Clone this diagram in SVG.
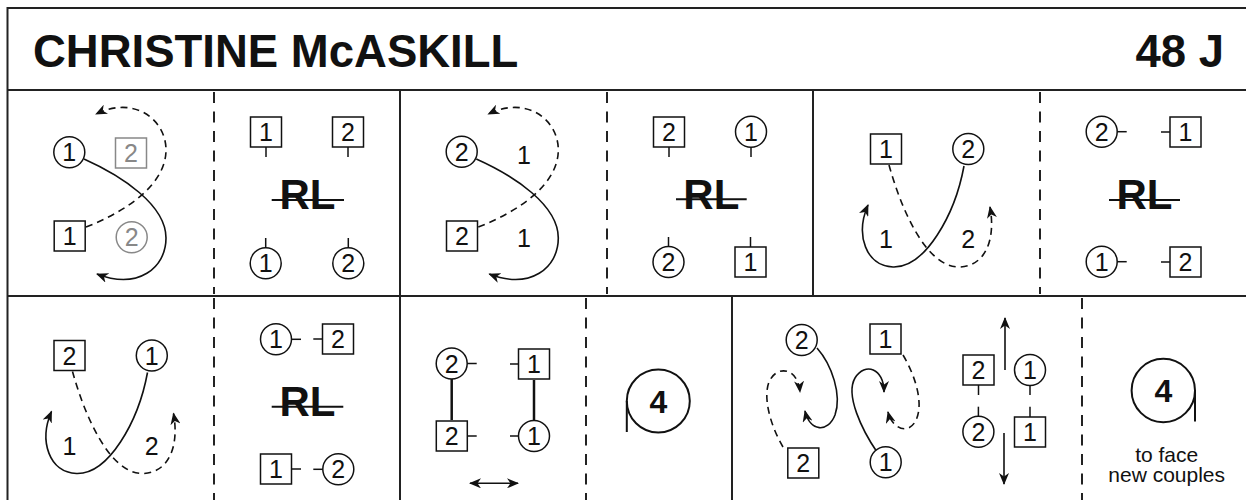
<svg xmlns="http://www.w3.org/2000/svg" width="1246" height="500" viewBox="0 0 1246 500">
<defs>
<style>
.fr{stroke:#222;stroke-width:2;fill:none}
.fd{stroke:#222;stroke-width:2;fill:none;stroke-dasharray:11 8.5}
.n circle,.n rect{fill:#fff;stroke:#111;stroke-width:1.5}
.g circle,.g rect{fill:#fff;stroke:#888;stroke-width:1.5}
.tk{stroke:#111;stroke-width:1.5}
text{font-family:"Liberation Sans",Arial,sans-serif;text-anchor:middle;fill:#111}
.d{font-size:25px}
.g text{fill:#888}
.rl{font-size:42px;font-weight:bold}
.st{stroke:#111;stroke-width:2}
.c{fill:none;stroke:#111;stroke-width:1.6}
.cd{fill:none;stroke:#111;stroke-width:1.6;stroke-dasharray:7 5}
.ca{marker-end:url(#ah)}
.big{font-size:32px;font-weight:bold}
.sm{font-size:21px}
</style>
<marker id="ah" viewBox="0 0 12 10" refX="11" refY="5" markerWidth="12" markerHeight="10" markerUnits="userSpaceOnUse" orient="auto-start-reverse"><path d="M0,0 L12,5 L0,10 L3.5,5 Z" fill="#111" stroke="none"/></marker>
</defs>
<rect width="1246" height="500" fill="#fff"/>

<g id="frame">
<line class="fr" x1="7.5" y1="8" x2="1246" y2="8"/>
<line class="fr" x1="7.5" y1="7" x2="7.5" y2="500"/>
<line class="fr" x1="7.5" y1="90" x2="1246" y2="90"/>
<line class="fr" x1="7.5" y1="296" x2="1246" y2="296"/>
<line class="fr" x1="400" y1="90" x2="400" y2="500"/>
<line class="fr" x1="813" y1="90" x2="813" y2="296"/>
<line class="fr" x1="732" y1="296" x2="732" y2="500"/>
<line class="fd" x1="214" y1="92" x2="214" y2="294"/>
<line class="fd" x1="607" y1="92" x2="607" y2="294"/>
<line class="fd" x1="1040" y1="92" x2="1040" y2="294"/>
<line class="fd" x1="214" y1="298" x2="214" y2="500"/>
<line class="fd" x1="586" y1="298" x2="586" y2="500"/>
<line class="fd" x1="1082" y1="298" x2="1082" y2="500"/>
</g>

<g id="title">
<text x="33" y="67" style="font-size:45.5px;font-weight:bold;text-anchor:start">CHRISTINE McASKILL</text>
<text x="1224" y="67" style="font-size:45.5px;font-weight:bold;text-anchor:end">48 J</text>
</g>

<g id="connectors">
<path class="c ca" d="M84 159 C122 176 166 205 166 238 C166 268 138 290 97 274"/>
<path class="cd ca" d="M86 227 C125 212 166 185 166 150 C166 120 135 95 96 114"/>
<g transform="translate(392.3,0)">
<path class="c ca" d="M84 159 C122 176 166 205 166 238 C166 268 138 290 97 274"/>
<path class="cd ca" d="M86 227 C125 212 166 185 166 150 C166 120 135 95 96 114"/>
</g>
<path class="cd ca" d="M889 165 C900 205 925 268 960 267 C985 266 996 240 990 207"/>
<path class="c ca" d="M964 166 C955 215 925 268 893 267 C866 266 855 235 868 205"/>
<g transform="translate(-816.5,206.5)">
<path class="cd ca" d="M889 165 C900 205 925 268 960 267 C985 266 996 240 990 207"/>
<path class="c ca" d="M964 166 C955 215 925 268 893 267 C866 266 855 235 868 205"/>
</g>
<line x1="451.7" y1="379" x2="451.7" y2="420" stroke="#111" stroke-width="2.5"/>
<line x1="534" y1="380" x2="534" y2="420" stroke="#111" stroke-width="2.5"/>
<line class="c" x1="470" y1="483.3" x2="518" y2="483.3" style="marker-start:url(#ah);marker-end:url(#ah)"/>
<path class="c ca" d="M817 348 C832 365 842 395 835 415 C828 433 810 432 805 411"/>
<path class="cd ca" d="M783 447 C770 425 762 395 770 380 C778 365 798 368 800 392"/>
<path class="c ca" d="M877 452 C862 430 845 395 855 378 C865 362 884 368 884 392"/>
<path class="cd ca" d="M903 355 C915 375 925 405 915 422 C907 435 892 428 888 412"/>
<line class="c ca" x1="1005" y1="370" x2="1005" y2="318"/>
<line class="c ca" x1="1004" y1="433" x2="1004" y2="484"/>
</g>

<!-- Panel 1 -->
<g id="p1-m1" class="n"><circle cx="69.3" cy="152.3" r="15.5"/><text class="d" x="69.3" y="161.3">1</text></g>
<g id="p1-w2" class="g"><rect x="115.5" y="138" width="31" height="30"/><text class="d" x="131" y="162">2</text></g>
<g id="p1-w1" class="n"><rect x="54.2" y="221" width="31" height="30"/><text class="d" x="69.7" y="245">1</text></g>
<g id="p1-m2" class="g"><circle cx="131.7" cy="237.3" r="15.5"/><text class="d" x="131.7" y="246.3">2</text></g>

<!-- Panel 2 -->
<g id="p2-w1" class="n"><rect x="250.5" y="117" width="31" height="30"/><text class="d" x="266" y="141">1</text><line class="tk" x1="266" y1="147" x2="266" y2="157"/></g>
<g id="p2-w2" class="n"><rect x="332.5" y="117" width="31" height="30"/><text class="d" x="348" y="141">2</text><line class="tk" x1="348" y1="147" x2="348" y2="157"/></g>
<g id="p2-rl"><text class="rl" x="307.5" y="209">RL</text><line class="st" x1="271.7" y1="200" x2="344" y2="200"/></g>
<g id="p2-m1" class="n"><circle cx="265.7" cy="263.3" r="15.5"/><text class="d" x="265.7" y="272.3">1</text><line class="tk" x1="265.7" y1="238" x2="265.7" y2="247.8"/></g>
<g id="p2-m2" class="n"><circle cx="348.3" cy="263.3" r="15.5"/><text class="d" x="348.3" y="272.3">2</text><line class="tk" x1="348.3" y1="238" x2="348.3" y2="247.8"/></g>

<!-- Panel 3 -->
<g id="p3-m2" class="n"><circle cx="461.7" cy="151.7" r="15.5"/><text class="d" x="461.7" y="160.7">2</text></g>
<g id="p3-w2" class="n"><rect x="446.5" y="221" width="31" height="30"/><text class="d" x="462" y="245">2</text></g>
<g id="p3-l1"><text class="d" x="524" y="163.5">1</text></g>
<g id="p3-l2"><text class="d" x="524" y="246.7">1</text></g>

<!-- Panel 4 -->
<g id="p4-w2" class="n"><rect x="653.5" y="117" width="31" height="30"/><text class="d" x="669" y="141">2</text><line class="tk" x1="669" y1="147" x2="669" y2="157"/></g>
<g id="p4-m1" class="n"><circle cx="751" cy="131.7" r="15.5"/><text class="d" x="751" y="140.7">1</text><line class="tk" x1="751" y1="147.2" x2="751" y2="157"/></g>
<g id="p4-rl"><text class="rl" x="711.3" y="208.5">RL</text><line class="st" x1="676" y1="199.3" x2="746.7" y2="199.3"/></g>
<g id="p4-m2" class="n"><circle cx="668.5" cy="262" r="15.5"/><text class="d" x="668.5" y="271">2</text><line class="tk" x1="668.5" y1="237" x2="668.5" y2="246.5"/></g>
<g id="p4-w1" class="n"><rect x="735" y="247" width="31" height="30"/><text class="d" x="750.5" y="271">1</text><line class="tk" x1="750.5" y1="237" x2="750.5" y2="247"/></g>

<!-- Panel 5 -->
<g id="p5-w1" class="n"><rect x="870.5" y="134" width="31" height="30"/><text class="d" x="886" y="158">1</text></g>
<g id="p5-m2" class="n"><circle cx="968.3" cy="149" r="15.5"/><text class="d" x="968.3" y="158">2</text></g>
<g id="p5-l1"><text class="d" x="886" y="248">1</text></g>
<g id="p5-l2"><text class="d" x="968.3" y="248">2</text></g>

<!-- Panel 6 -->
<g id="p6-m2" class="n"><circle cx="1101.7" cy="131.7" r="15.5"/><text class="d" x="1101.7" y="140.7">2</text><line class="tk" x1="1117.2" y1="131.7" x2="1126.7" y2="131.7"/></g>
<g id="p6-w1" class="n"><rect x="1170" y="117" width="31" height="30"/><text class="d" x="1185.5" y="141">1</text><line class="tk" x1="1161" y1="132" x2="1170" y2="132"/></g>
<g id="p6-rl"><text class="rl" x="1144.5" y="209">RL</text><line class="st" x1="1109" y1="200" x2="1180" y2="200"/></g>
<g id="p6-m1" class="n"><circle cx="1101.7" cy="261.7" r="15.5"/><text class="d" x="1101.7" y="270.7">1</text><line class="tk" x1="1117.2" y1="261.7" x2="1126.7" y2="261.7"/></g>
<g id="p6-w2" class="n"><rect x="1170" y="247" width="31" height="30"/><text class="d" x="1185.5" y="271">2</text><line class="tk" x1="1161" y1="262" x2="1170" y2="262"/></g>

<!-- Bottom panel 1 -->
<g id="b1-w2" class="n"><rect x="54" y="340.5" width="31" height="30"/><text class="d" x="69.5" y="364.5">2</text></g>
<g id="b1-m1" class="n"><circle cx="151.8" cy="355.5" r="15.5"/><text class="d" x="151.8" y="364.5">1</text></g>
<g id="b1-l1"><text class="d" x="69.5" y="454.5">1</text></g>
<g id="b1-l2"><text class="d" x="151.8" y="454.5">2</text></g>

<!-- Bottom panel 2 -->
<g id="b2-m1" class="n"><circle cx="276" cy="339.3" r="15.5"/><text class="d" x="276" y="348.3">1</text><line class="tk" x1="291.5" y1="339.3" x2="301" y2="339.3"/></g>
<g id="b2-w2" class="n"><rect x="322.5" y="324" width="31" height="30"/><text class="d" x="338" y="348">2</text><line class="tk" x1="313.3" y1="339" x2="322.5" y2="339"/></g>
<g id="b2-rl"><text class="rl" x="307.5" y="415.7">RL</text><line class="st" x1="271.7" y1="406.7" x2="343.3" y2="406.7"/></g>
<g id="b2-w1" class="n"><rect x="260.5" y="454" width="31" height="30"/><text class="d" x="276" y="478">1</text><line class="tk" x1="291.5" y1="469" x2="301" y2="469"/></g>
<g id="b2-m2" class="n"><circle cx="338.3" cy="469.3" r="15.5"/><text class="d" x="338.3" y="478.3">2</text><line class="tk" x1="313.3" y1="469.3" x2="322.8" y2="469.3"/></g>

<!-- Bottom panel 3 -->
<g id="b3-m2" class="n"><circle cx="451.7" cy="363.5" r="15.5"/><text class="d" x="451.7" y="372.5">2</text><line class="tk" x1="467.2" y1="363.5" x2="476.7" y2="363.5"/></g>
<g id="b3-w1" class="n"><rect x="518.5" y="349" width="31" height="30"/><text class="d" x="534" y="373">1</text><line class="tk" x1="510" y1="364" x2="518.5" y2="364"/></g>
<g id="b3-w2" class="n"><rect x="436.3" y="421" width="31" height="30"/><text class="d" x="451.8" y="445">2</text><line class="tk" x1="467.3" y1="436" x2="476.7" y2="436"/></g>
<g id="b3-m1" class="n"><circle cx="534" cy="436" r="15.5"/><text class="d" x="534" y="445">1</text><line class="tk" x1="510" y1="436" x2="518.5" y2="436"/></g>

<!-- Bottom panel 4 -->
<g id="b4-circle"><circle cx="658.3" cy="401" r="31.5" fill="none" stroke="#111" stroke-width="2"/><line x1="626.8" y1="401" x2="626.8" y2="432" stroke="#111" stroke-width="2"/><text class="big" x="658.3" y="413">4</text></g>

<!-- Bottom panel 5 -->
<g id="b5-m2" class="n"><circle cx="801.7" cy="340" r="15.5"/><text class="d" x="801.7" y="349">2</text></g>
<g id="b5-w1" class="n"><rect x="870" y="324" width="31" height="30"/><text class="d" x="885.5" y="348">1</text></g>
<g id="b5-w2" class="n"><rect x="787.8" y="448" width="31" height="30"/><text class="d" x="803.3" y="472">2</text></g>
<g id="b5-m1" class="n"><circle cx="885.7" cy="462.3" r="15.5"/><text class="d" x="885.7" y="471.3">1</text></g>
<g id="b5-w2b" class="n"><rect x="963" y="355" width="31" height="30"/><text class="d" x="978.5" y="379">2</text><line class="tk" x1="978.5" y1="385" x2="978.5" y2="395"/></g>
<g id="b5-m1b" class="n"><circle cx="1030" cy="370" r="15.5"/><text class="d" x="1030" y="379">1</text><line class="tk" x1="1030" y1="385.5" x2="1030" y2="395"/></g>
<g id="b5-m2b" class="n"><circle cx="978.4" cy="431.7" r="15.5"/><text class="d" x="978.4" y="440.7">2</text><line class="tk" x1="978.4" y1="406.7" x2="978.4" y2="416.2"/></g>
<g id="b5-w1b" class="n"><rect x="1014.5" y="417" width="31" height="30"/><text class="d" x="1030" y="441">1</text><line class="tk" x1="1030" y1="406.7" x2="1030" y2="417"/></g>

<!-- Bottom panel 6 -->
<g id="b6-circle"><circle cx="1163.3" cy="390.5" r="31.7" fill="none" stroke="#111" stroke-width="2"/><line x1="1195" y1="390.5" x2="1195" y2="421.5" stroke="#111" stroke-width="2"/><text class="big" x="1163.3" y="402">4</text></g>
<g id="b6-label"><text class="sm" x="1166.7" y="462">to face</text><text class="sm" x="1166.7" y="482">new couples</text></g>
</svg>
